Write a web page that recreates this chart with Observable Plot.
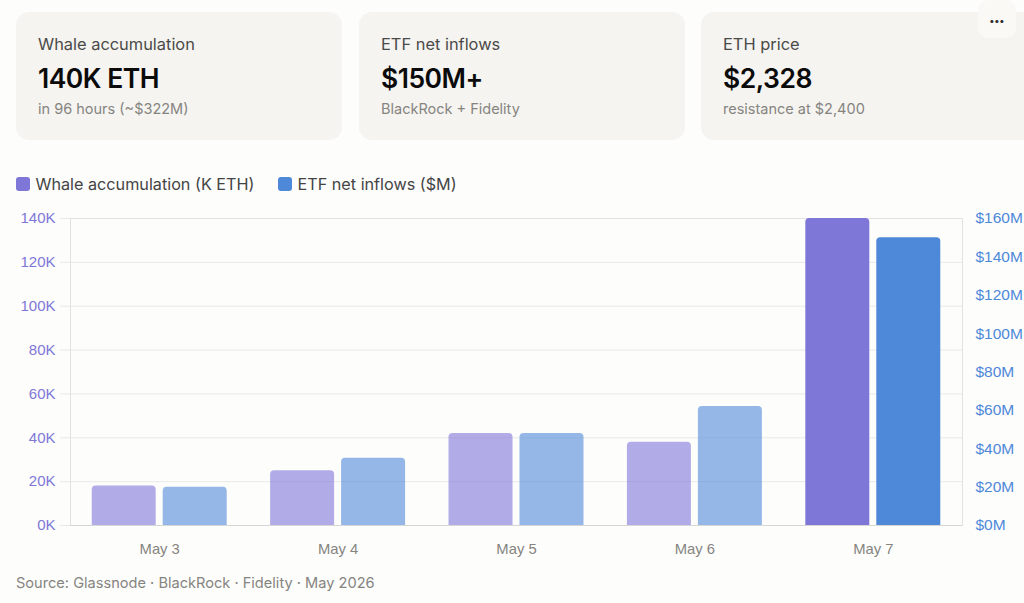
<!DOCTYPE html>
<html>
<head>
<meta charset="utf-8">
<script src="https://cdn.jsdelivr.net/npm/d3@7"></script>
<script src="https://cdn.jsdelivr.net/npm/@observablehq/plot@0.6"></script>
<style>
html,body{margin:0;padding:0;width:1024px;height:603px;overflow:hidden;background:#fdfdfc;font-family:Inter,"Noto Sans",sans-serif;}
.card{position:absolute;top:12px;height:128px;background:#f5f4f1;border-radius:13px;}
.card div{position:absolute;left:22px;white-space:nowrap;line-height:20px;}
.t{top:22px;font-size:16.4px;color:#4a4a48;}
.v{top:51px;font-size:26.5px;font-weight:600;color:#0b0b0b;letter-spacing:-.5px;line-height:30px!important;}
.s{top:87px;font-size:14.5px;color:#85847f;}
.more{position:absolute;left:978px;top:0;width:38px;height:38px;background:#faf9f6;border-radius:10px;text-align:center;color:#333;font-size:10px;line-height:40px;font-weight:700;letter-spacing:.3px;}
.lg{position:absolute;top:174px;font-size:16.2px;line-height:20px;color:#444;white-space:nowrap;}
.sw{position:absolute;top:177px;width:14px;height:14px;border-radius:3px;}
#chart{position:absolute;left:0;top:200px;}
#chart svg{display:block;background:transparent;}
.src{position:absolute;left:16px;top:573px;font-size:14.6px;line-height:20px;color:#85847f;white-space:nowrap;}
</style>
</head>
<body>
<div id="cards"></div>
<div class="more">•••</div>
<div class="sw" style="left:16px;background:#7f77d8"></div><div class="lg" style="left:35.5px">Whale accumulation (K ETH)</div>
<div class="sw" style="left:278px;background:#4e88d9"></div><div class="lg" style="left:297.5px">ETF net inflows ($M)</div>
<div id="chart"></div>
<div class="src">Source: Glassnode · BlackRock · Fidelity · May 2026</div>
<script>
const cardTitles = ["Whale accumulation", "ETF net inflows", "ETH price"];
const cardValues = ["140K ETH", "$150M+", "$2,328"];
const cardNotes = ["in 96 hours (~$322M)", "BlackRock + Fidelity", "resistance at $2,400"];
const days = ["May 3", "May 4", "May 5", "May 6", "May 7"];
const whaleK = [18, 25, 42, 38, 140];
const etfM = [20, 35, 48, 62, 150];
const leftTicks = [0, 20, 40, 60, 80, 100, 120, 140];
const rightTicks = [0, 20, 40, 60, 80, 100, 120, 140, 160];
const highlightDay = "May 7";

const cardLefts = [16, 359, 701], cardWidths = [326, 326, 340];
document.getElementById("cards").innerHTML = cardTitles.map((t, i) =>
  `<div class="card" style="left:${cardLefts[i]}px;width:${cardWidths[i]}px"><div class="t">${t}</div><div class="v">${cardValues[i]}</div><div class="s">${cardNotes[i]}</div></div>`).join("");

const purple = "#7f77d8", blue = "#4e88d9", grid = "#e9e9e7";
const toLeft = v => v * 140 / 160;
const barSpan = 0.3587, barGap = 0.0392;
const groupStart = (1 - 2 * barSpan - barGap) / 2;
const rows = [
  ...days.map((day, i) => ({day, series: "whale", i, slot: 0, y: whaleK[i]})),
  ...days.map((day, i) => ({day, series: "etf", i, slot: 1, y: toLeft(etfM[i])}))
];

const plot = Plot.plot({
  width: 1024, height: 360,
  marginTop: 18, marginBottom: 35, marginLeft: 70, marginRight: 62,
  style: {fontFamily: '"Liberation Sans", Arial, sans-serif', fontSize: "15px", background: "transparent", overflow: "visible"},
  x: {domain: [0, days.length], label: null},
  y: {domain: [0, 140], label: null},
  color: {domain: ["whale", "etf"], range: [purple, blue]},
  opacity: {type: "identity"},
  marks: [
    Plot.ruleY(leftTicks, {stroke: grid, strokeWidth: 1}),
    Plot.frame({stroke: "#e2e2e0", strokeWidth: 1}),
    Plot.rect(rows, {
      x1: d => d.i + groupStart + d.slot * (barSpan + barGap),
      x2: d => d.i + groupStart + d.slot * (barSpan + barGap) + barSpan,
      y1: () => 0, y2: "y", fill: "series",
      fillOpacity: d => d.day === highlightDay ? 1 : 0.6,
      rx1y2: 4, rx2y2: 4
    }),
    Plot.ruleY([0], {stroke: "#d6d6d4", strokeWidth: 1.2}),
    Plot.axisY({
      ticks: leftTicks, anchor: "left", tickSize: 10, tickPadding: 5,
      tickFormat: d => d + "K", stroke: grid, fill: purple, label: null
    }),
    Plot.axisY({
      ticks: rightTicks.map(toLeft), anchor: "right", tickSize: 0, tickPadding: 13,
      tickFormat: d => "$" + Math.round(d * 160 / 140) + "M", fill: blue, label: null, fontSize: 15.5
    }),
    Plot.axisX({
      ticks: days.map((_, i) => i + 0.5), anchor: "bottom", tickSize: 0, tickPadding: 18,
      tickFormat: v => days[v - 0.5], fill: "#85847f", label: null, fontSize: 14.8
    })
  ]
});
document.getElementById("chart").appendChild(plot);
</script>
</body>
</html>
